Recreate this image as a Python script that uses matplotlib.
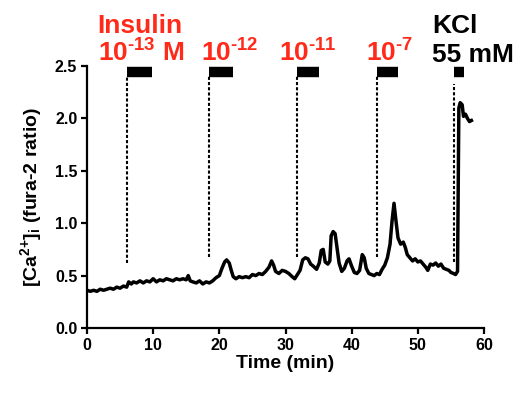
import matplotlib
matplotlib.use("Agg")
import matplotlib.pyplot as plt

plt.rcParams['font.family'] = ['Liberation Sans', 'DejaVu Sans']
plt.rcParams['font.weight'] = 'bold'
plt.rcParams['mathtext.fontset'] = 'custom'
plt.rcParams['mathtext.rm'] = 'Liberation Sans:bold'
plt.rcParams['mathtext.bf'] = 'Liberation Sans:bold'
plt.rcParams['mathtext.default'] = 'bf'

# fura-2 ratio trace
time_min = [0.0, 0.5, 1.0, 1.5, 2.0, 2.5, 3.0, 3.5, 4.0, 4.5, 5.0, 5.5, 6.0, 6.3, 6.7,
            7.0, 7.5, 8.0, 8.5, 9.0, 9.5, 10.0, 10.5, 11.0, 11.5, 12.0, 12.5, 13.0, 13.5,
            14.0, 14.5, 15.0, 15.3, 15.6, 16.0, 16.5, 17.0, 17.5, 18.0, 18.5, 19.0, 19.5,
            20.0, 20.4, 20.8, 21.1, 21.5, 21.8, 22.1, 22.5, 23.0, 23.5, 24.0, 24.5, 25.0,
            25.5, 26.0, 26.5, 27.0, 27.5, 27.9, 28.2, 28.5, 29.0, 29.5, 30.0, 30.5, 31.0,
            31.4, 31.8, 32.2, 32.6, 33.0, 33.4, 33.8, 34.2, 34.7, 35.1, 35.4, 35.7, 36.0,
            36.4, 36.7, 36.9, 37.2, 37.5, 37.8, 38.1, 38.5, 38.9, 39.3, 39.6, 40.0, 40.4,
            40.8, 41.2, 41.6, 41.9, 42.2, 42.6, 43.0, 43.4, 43.8, 44.2, 44.6, 45.0, 45.4,
            45.8, 46.1, 46.4, 46.7, 47.0, 47.4, 47.8, 48.1, 48.4, 48.8, 49.2, 49.6, 50.0,
            50.4, 50.8, 51.2, 51.5, 51.9, 52.3, 52.7, 53.1, 53.5, 53.9, 54.3, 54.7, 55.0,
            55.4, 55.7, 56.0, 56.2, 56.4, 56.7, 56.9, 57.2, 57.5, 57.8, 58.1]
ratio = [0.36, 0.35, 0.36, 0.35, 0.37, 0.36, 0.37, 0.38, 0.37, 0.39, 0.38, 0.40, 0.39, 0.44, 0.42,
         0.44, 0.43, 0.45, 0.43, 0.45, 0.44, 0.47, 0.44, 0.46, 0.45, 0.47, 0.46, 0.45, 0.47,
         0.46, 0.47, 0.46, 0.50, 0.45, 0.44, 0.43, 0.45, 0.42, 0.44, 0.43, 0.45, 0.48,
         0.50, 0.57, 0.63, 0.65, 0.62, 0.55, 0.49, 0.47, 0.49, 0.48, 0.49, 0.48, 0.51,
         0.50, 0.52, 0.51, 0.54, 0.58, 0.64, 0.60, 0.54, 0.52, 0.55, 0.54, 0.52, 0.49,
         0.47, 0.51, 0.55, 0.65, 0.67, 0.66, 0.61, 0.59, 0.56, 0.62, 0.74, 0.75, 0.63,
         0.61, 0.64, 0.88, 0.92, 0.90, 0.76, 0.62, 0.54, 0.57, 0.64, 0.66, 0.59, 0.53,
         0.52, 0.55, 0.70, 0.67, 0.57, 0.52, 0.51, 0.50, 0.52, 0.51, 0.56, 0.60, 0.67,
         0.80, 1.02, 1.19, 1.02, 0.86, 0.80, 0.82, 0.77, 0.70, 0.67, 0.64, 0.66, 0.63,
         0.64, 0.61, 0.58, 0.55, 0.61, 0.60, 0.62, 0.59, 0.61, 0.57, 0.56, 0.55, 0.53,
         0.52, 0.51, 0.54, 2.10, 2.15, 2.13, 2.02, 2.04, 2.00, 1.97, 1.98]

# stimulus periods and labels
bar_start = [6.0, 18.4, 31.7, 43.85, 55.4]
bar_end = [9.8, 22.1, 35.0, 47.0, 57.0]
line_bottom = [0.62, 0.68, 0.68, 0.68, 0.63]
line_top = [2.40, 2.40, 2.40, 2.40, 2.33]
dose_labels = [r'10$^{\text{-13}}$ M', r'10$^{\text{-12}}$', r'10$^{\text{-11}}$', r'10$^{\text{-7}}$']
dose_label_x = [1.6, 17.2, 29.0, 42.1]

fig = plt.figure(figsize=(5.16, 3.94), dpi=100)
ax = fig.add_axes([87 / 516, 66 / 394, 397 / 516, 262 / 394])

ax.plot(time_min, ratio, color='black', linewidth=2.5)

# dotted lines marking the start of each application
for xs, yb, yt in zip(bar_start, line_bottom, line_top):
    ax.plot([xs, xs], [yb, yt], color='black', linewidth=1.5,
            linestyle=(0, (1.5, 1.0)), clip_on=False)

# black bars showing the application periods
for xs, xe in zip(bar_start, bar_end):
    ax.plot([xs, xe], [2.44, 2.44], color='black', linewidth=7.5,
            solid_capstyle='butt', clip_on=False)

red = '#ff2a1a'
trans = ax.get_xaxis_transform()
ax.text(dose_label_x[0], 1.126, 'Insulin', color=red, fontsize=19,
        fontweight='bold', transform=trans)
for lx, lab in zip(dose_label_x, dose_labels):
    ax.text(lx, 1.015, lab, color=red, fontsize=19, fontweight='bold', transform=trans)
ax.text(52.2, 1.126, 'KCl', color='black', fontsize=19, fontweight='bold', transform=trans)
ax.text(52.2, 1.015, '55 mM', color='black', fontsize=19, fontweight='bold', transform=trans)

ax.set_xlim(0, 60)
ax.set_ylim(0, 2.5)
ax.set_xticks([0, 10, 20, 30, 40, 50, 60])
ax.set_yticks([0.0, 0.5, 1.0, 1.5, 2.0, 2.5])
ax.set_yticklabels(['0.0', '0.5', '1.0', '1.5', '2.0', '2.5'])

for side in ['top', 'right']:
    ax.spines[side].set_visible(False)
for side in ['left', 'bottom']:
    ax.spines[side].set_linewidth(1.6)
ax.tick_params(direction='out', length=4, width=1.6, labelsize=11.5, pad=3)
for lab in ax.get_xticklabels() + ax.get_yticklabels():
    lab.set_fontweight('bold')

ax.set_xlabel('Time (min)', fontsize=14, fontweight='bold', labelpad=2)
ax.set_ylabel(r'[Ca$^{\text{2+}}$]$_{\text{i}}$ (fura-2 ratio)', fontsize=14,
              fontweight='bold', labelpad=8)

fig.savefig('out.png', dpi=100)
